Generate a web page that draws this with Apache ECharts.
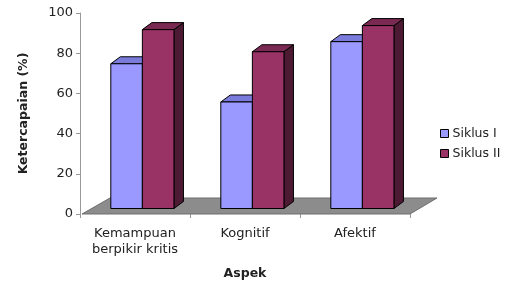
<!DOCTYPE html>
<html><head><meta charset="utf-8">
<script src="https://cdn.jsdelivr.net/npm/echarts@6/dist/echarts.min.js"></script>
<style>html,body{margin:0;padding:0;background:#fff}#c{width:513px;height:282px}</style>
</head><body><div id="c"></div>
<script>
var categories = ['Kemampuan\nberpikir kritis', 'Kognitif', 'Afektif'];
var siklus1 = [72, 53, 83];
var siklus2 = [89, 78, 91];
var seriesNames = ['Siklus I', 'Siklus II'];
var yTicks = [0, 20, 40, 60, 80, 100];

var faceColors = [
  {front: '#9999ff', top: '#7b7bdb', side: '#5c5cab'},
  {front: '#993366', top: '#7a2952', side: '#4d1a33'}
];
var DX = 9.5, DY = -7, LIFT = 5.5;

function barRender(sIdx) {
  return function (params, api) {
    var i = api.value(0), v = api.value(1);
    var bw = api.size([1, 0])[0];
    var c = api.coord([i, v]);
    var b = api.coord([i, 0]);
    var w = 0.287 * bw;
    var x0 = c[0] - bw / 2 + 0.28 * bw + sIdx * w;
    var yT = c[1] - LIFT, yB = b[1] - LIFT;
    var col = faceColors[sIdx];
    var st = {stroke: '#000', lineWidth: 1};
    return {type: 'group', children: [
      {type: 'polygon', shape: {points: [[x0 + w, yT], [x0 + w + DX, yT + DY], [x0 + w + DX, yB + DY], [x0 + w, yB]]},
        style: Object.assign({fill: col.side}, st)},
      {type: 'polygon', shape: {points: [[x0, yT], [x0 + DX, yT + DY], [x0 + w + DX, yT + DY], [x0 + w, yT]]},
        style: Object.assign({fill: col.top}, st)},
      {type: 'rect', shape: {x: x0, y: yT, width: w, height: yB - yT},
        style: Object.assign({fill: col.front}, st)}
    ]};
  };
}

function floorRender(params, api) {
  var cs = params.coordSys;
  var y0 = cs.y + cs.height;
  var xl = cs.x + 2, xr = cs.x + cs.width;
  return {type: 'polygon', shape: {points: [[xl, y0], [xr, y0], [xr + 27, y0 - 16], [xl + 28, y0 - 16]]},
    style: {fill: '#8c8c8c', stroke: '#6e6e6e', lineWidth: 1}, silent: true};
}

var chart = echarts.init(document.getElementById('c'));
chart.setOption({
  animation: false,
  backgroundColor: '#fff',
  textStyle: {fontFamily: 'DejaVu Sans, Verdana, sans-serif'},
  grid: {left: 80, right: 103, top: 13, bottom: 68, containLabel: false, outerBoundsMode: 'none'},
  legend: {
    orient: 'vertical', left: 435, top: 122, itemWidth: 8, itemHeight: 8, itemGap: 7,
    icon: 'rect',
    textStyle: {fontSize: 12.5, color: '#222', padding: [0, 0, 0, -1]},
    data: [
      {name: seriesNames[0], itemStyle: {color: faceColors[0].front, borderColor: '#000', borderWidth: 1}},
      {name: seriesNames[1], itemStyle: {color: faceColors[1].front, borderColor: '#000', borderWidth: 1}}
    ]
  },
  xAxis: {
    type: 'category', data: categories,
    name: 'Aspek', nameLocation: 'middle', nameGap: 53,
    nameTextStyle: {fontSize: 12.5, fontWeight: 'bold', color: '#222'},
    axisLine: {show: false},
    axisTick: {show: true, length: 4, lineStyle: {color: '#999'}},
    axisLabel: {fontSize: 13, color: '#222', lineHeight: 16, margin: 12, interval: 0, hideOverlap: false}
  },
  yAxis: {
    type: 'value', min: yTicks[0], max: yTicks[yTicks.length - 1], interval: 20,
    name: 'Ketercapaian (%)', nameLocation: 'middle', nameGap: 50,
    nameTextStyle: {fontSize: 12.5, fontWeight: 'bold', color: '#222'},
    axisLine: {show: true, lineStyle: {color: '#999'}},
    axisTick: {show: true, length: 4, lineStyle: {color: '#999'}},
    splitLine: {show: false},
    axisLabel: {fontSize: 13, color: '#222', margin: 7}
  },
  series: [
    {type: 'custom', name: 'floor', renderItem: floorRender, data: [[0, 0]], silent: true, z: 1},
    {type: 'custom', name: seriesNames[0], renderItem: barRender(0),
      data: siklus1.map(function (v, i) { return [i, v]; }), itemStyle: {color: faceColors[0].front}, z: 2},
    {type: 'custom', name: seriesNames[1], renderItem: barRender(1),
      data: siklus2.map(function (v, i) { return [i, v]; }), itemStyle: {color: faceColors[1].front}, z: 3}
  ]
});
</script></body></html>
